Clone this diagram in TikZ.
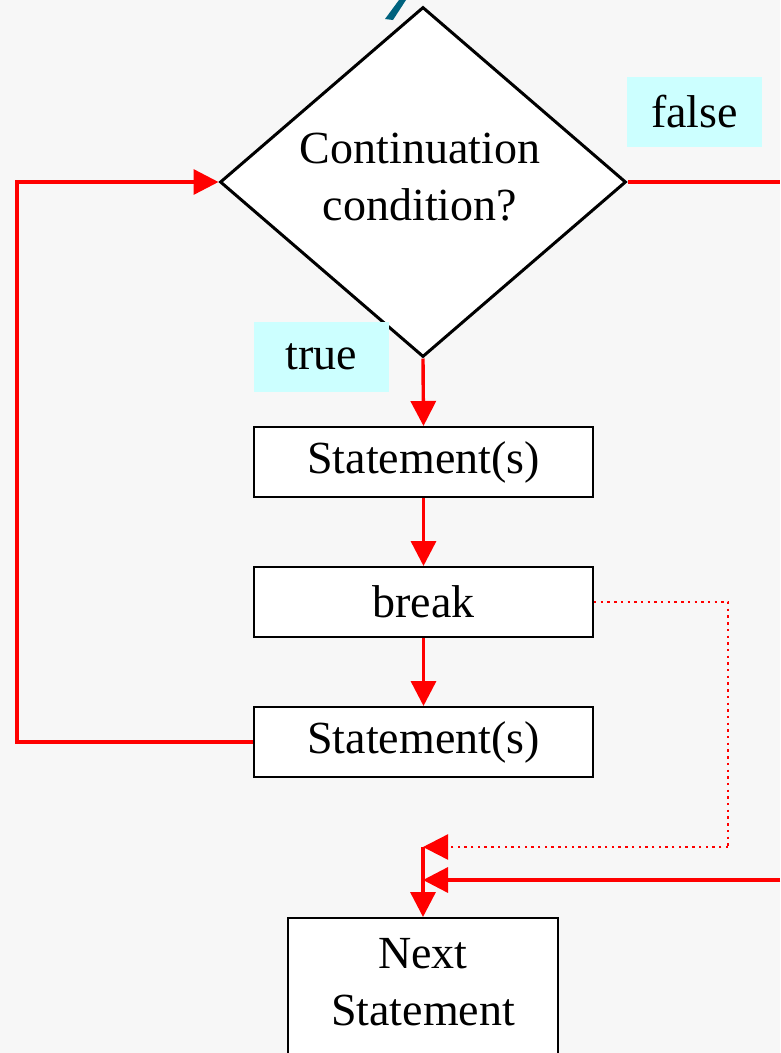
\documentclass[tikz,border=0pt]{standalone}
\usepackage{fontspec}
\setmainfont{Liberation Serif}
\usepackage{xcolor}
\usetikzlibrary{arrows.meta,shapes.geometric}
\definecolor{bgpaper}{RGB}{247,247,247}
\definecolor{flowred}{RGB}{255,0,0}
\definecolor{tagcyan}{RGB}{204,255,255}
\definecolor{titleteal}{RGB}{0,98,126}

\begin{document}
\begin{tikzpicture}[x=1pt,y=-1pt,line join=miter,
    every node/.style={font=\fontsize{46}{57}\selectfont},
    stmtbox/.style={draw=black,line width=2pt,fill=white,minimum width=339pt,minimum height=70pt,inner sep=0pt},
    condbox/.style={diamond,aspect=1.16,draw=black,line width=3pt,fill=white,minimum width=406pt,minimum height=350pt,inner sep=0pt},
    tagbox/.style={fill=tagcyan,minimum width=135pt,minimum height=70pt,inner sep=0pt},
    flow/.style={draw=flowred,line width=3.4pt,-{Triangle[length=25pt,width=25pt]}},
    flowline/.style={draw=flowred,line width=3.4pt},
    jumpline/.style={draw=flowred,line width=2.4pt,dash pattern=on 2.4pt off 4.3pt}]
  % paper
  \useasboundingbox (0,0) rectangle (780,1053);
  \fill[bgpaper] (0,0) rectangle (780,1053);
  \clip (0,0) rectangle (780,1053);
  \fill[titleteal] (399,0) -- (406,0) -- (393,20) -- (385,19) -- cycle;

  % blocks
  \node[condbox] (cond) at (423,182) {};
  \node[align=center] (condtext) at (420,177) {Continuation\\condition?};
  \node[tagbox] (falsetag) at (694.5,112) {false};
  \node[tagbox] (truetag) at (321.5,356.5) {true};
  \node[stmtbox] (stmtA) at (423.5,462) {\raisebox{-4pt}{Statement(s)}};
  \node[stmtbox] (brk) at (423.5,602) {\raisebox{-2pt}{break}};
  \node[stmtbox] (stmtB) at (423.5,742) {\raisebox{-4pt}{Statement(s)}};
  \node[draw=black,line width=2pt,fill=white,minimum width=270pt,minimum height=160pt,
        inner sep=0pt,anchor=north] (next) at (423,917) {};
  \node[align=center] (nexttext) at (423,982) {Next\\Statement};

  % turning points
  \coordinate (loopLo) at (17,742);
  \coordinate (loopHi) at (17,182);
  \coordinate (outR) at (780,182);
  \coordinate (inR) at (780,880);
  \coordinate (exitJ) at (423,880);
  \coordinate (jumpC) at (728,847);
  \coordinate (jumpJ) at (423,847);

  % connectors
  \draw[flow] (cond.south) -- (stmtA.north);
  \draw[flow] (stmtA.south) -- (brk.north);
  \draw[flow] (brk.south) -- (stmtB.north);
  \draw[flow] (stmtB.west) -- (loopLo) -- (loopHi) -- (cond.west);
  \draw[flowline] (cond.east) -- (outR);
  \draw[flow] (inR) -- (exitJ);
  \draw[jumpline] (brk.east) -| (jumpC);
  \draw[jumpline,-{Triangle[length=25pt,width=25pt]}] (jumpC) -- (jumpJ);
  \draw[flow] (jumpJ) -- (next.north);
\end{tikzpicture}
\end{document}
